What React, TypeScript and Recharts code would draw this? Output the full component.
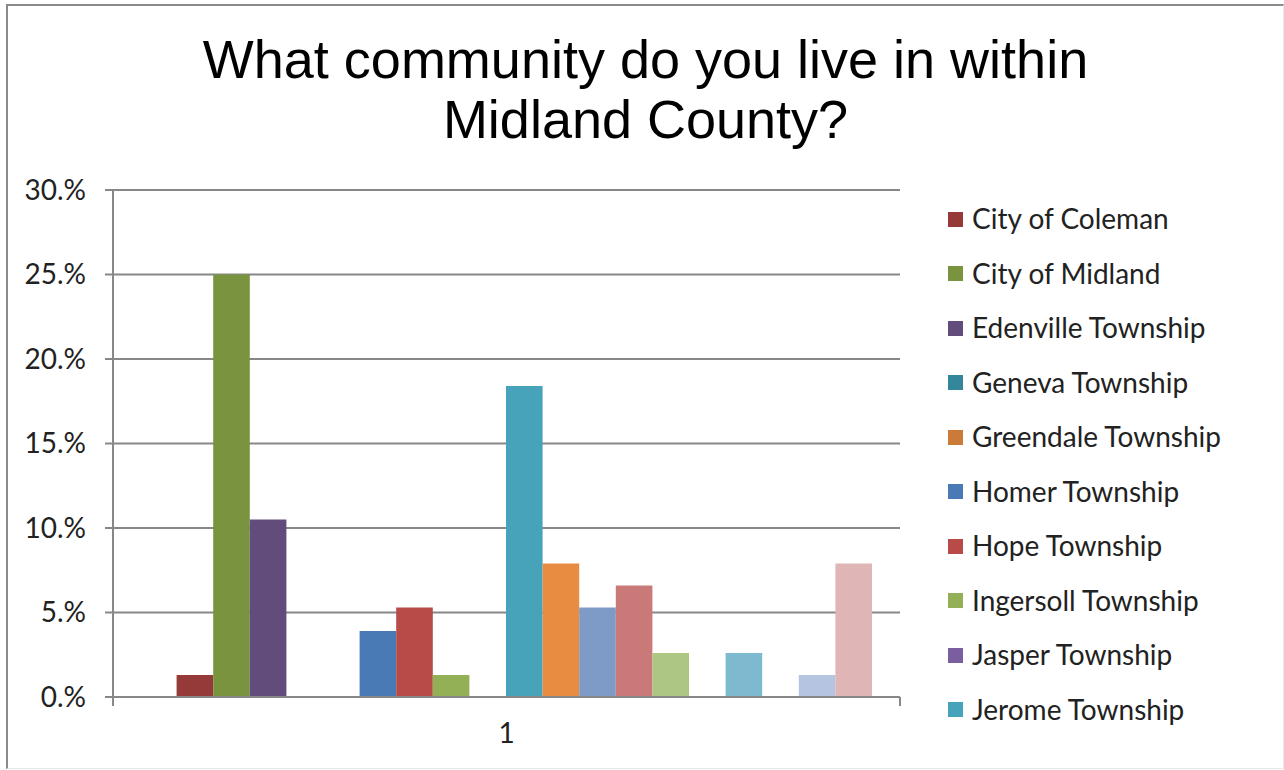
import React from 'react';
import { BarChart, Bar, XAxis, YAxis, CartesianGrid, Legend } from 'recharts';

const categories = ['1'];

const seriesNames = [
  'No response',
  'City of Coleman',
  'City of Midland',
  'Edenville Township',
  'Geneva Township',
  'Greendale Township',
  'Homer Township',
  'Hope Township',
  'Ingersoll Township',
  'Jasper Township',
  'Jerome Township',
  'Larkin Township',
  'Lee Township',
  'Lincoln Township',
  'Midland Township',
  'Mills Township',
  'Mount Haley Township',
  'Porter Township',
  'Warren Township',
  'Village of Sanford',
];

const seriesValues = [
  0, 0.013, 0.25, 0.105, 0, 0, 0.039, 0.053, 0.013, 0, 0.184, 0.079, 0.053, 0.066,
  0.026, 0, 0.026, 0, 0.013, 0.079,
];

const seriesColors = [
  '#385D8A', '#953A38', '#79933F', '#624C7C', '#34869A', '#CC7A37', '#4A7AB5', '#B84A47',
  '#93B056', '#7B5E9F', '#47A3BA', '#E88C42', '#7E9BC8', '#C97A78', '#AEC683', '#A597C0',
  '#7DB9CF', '#F9B585', '#B5C4E0', '#DFB5B5',
];

const yTicks = [0, 0.05, 0.1, 0.15, 0.2, 0.25, 0.3];
const titleLines = ['What community do you live in within', 'Midland County?'];
const legendCount = 10;

const data = categories.map((c) => {
  const row: Record<string, string | number> = { category: c };
  seriesValues.forEach((v, i) => {
    row[`s${i}`] = v;
  });
  return row;
});

const W = 1284;
const H = 770;
const PLOT_LEFT = 113;
const PLOT_RIGHT = 900;
const PLOT_TOP = 190;
const PLOT_BOTTOM = 697;
const PLOT_W = PLOT_RIGHT - PLOT_LEFT;
const GRID = '#878787';
const FONT = 'Lato, "Noto Sans", sans-serif';
const FS = 28;

const XTick = (props: any) => {
  const { x, y, payload } = props;
  return (
    <g>
      <line x1={x - PLOT_W / 2} y1={y} x2={x - PLOT_W / 2} y2={y + 9} stroke={GRID} strokeWidth={2} />
      <line x1={x + PLOT_W / 2} y1={y} x2={x + PLOT_W / 2} y2={y + 9} stroke={GRID} strokeWidth={2} />
      <text x={x} y={y + 46} textAnchor="middle" fontFamily={FONT} fontSize={FS} fill="#222">
        {payload.value}
      </text>
    </g>
  );
};

const LegendContent = (props: any) => {
  const items = (props.payload || []).slice(0, legendCount);
  return (
    <div style={{ fontFamily: FONT, fontSize: FS, color: '#222' }}>
      {items.map((it: any) => (
        <div key={it.value} style={{ height: 54.5, display: 'flex', alignItems: 'center', whiteSpace: 'nowrap' }}>
          <span style={{ width: 15, height: 15, background: it.color, display: 'inline-block', flex: '0 0 15px' }} />
          <span style={{ marginLeft: 9, position: 'relative', top: -1 }}>{it.value}</span>
        </div>
      ))}
    </div>
  );
};

export default function App() {
  return (
    <div style={{ position: 'relative', width: W, height: H, background: '#fff' }}>
      <style>{'body{margin:0;background:#fff}'}</style>
      <div
        style={{
          position: 'absolute',
          left: 6,
          top: 4,
          width: 1278,
          height: 765,
          boxSizing: 'border-box',
          borderTop: '2px solid #8a8a8a',
          borderLeft: '2px solid #8a8a8a',
          borderRight: '1px solid #e8e8e8',
          borderBottom: '1px solid #e8e8e8',
        }}
      />
      <div
        style={{
          position: 'absolute',
          left: 0,
          top: 29,
          width: 1291,
          textAlign: 'center',
          fontFamily: '"Liberation Sans", Arial, sans-serif',
          fontSize: 54,
          lineHeight: '60px',
          color: '#000',
        }}
      >
        {titleLines.map((t) => (
          <div key={t}>{t}</div>
        ))}
      </div>
      <div style={{ position: 'absolute', left: 0, top: 0 }}>
        <BarChart
          width={W}
          height={H}
          data={data}
          margin={{ top: PLOT_TOP, right: W - PLOT_RIGHT, bottom: H - PLOT_BOTTOM - 50, left: 0 }}
          barSize={36.6}
          barGap={0}
        >
          <CartesianGrid vertical={false} stroke={GRID} strokeWidth={2} />
          <XAxis
            dataKey="category"
            height={50}
            axisLine={{ stroke: GRID, strokeWidth: 2 }}
            tickLine={false}
            tickSize={0}
            tickMargin={0}
            tick={<XTick />}
          />
          <YAxis
            width={PLOT_LEFT}
            domain={[0, 0.3]}
            ticks={yTicks}
            interval={0}
            axisLine={{ stroke: GRID, strokeWidth: 2 }}
            tickLine={{ stroke: GRID, strokeWidth: 2 }}
            tickSize={8}
            tickMargin={19}
            tick={{ fontFamily: FONT, fontSize: FS, fill: '#222' }}
            tickFormatter={(v: number) => `${Math.round(v * 100)}.%`}
          />
          <Legend
            layout="vertical"
            align="center"
            verticalAlign="middle"
            content={<LegendContent />}
            wrapperStyle={{ left: 948, top: 192, right: 'auto', bottom: 'auto', width: 330 }}
          />
          {seriesNames.map((name, i) => (
            <Bar
              key={name}
              dataKey={`s${i}`}
              name={name}
              fill={seriesColors[i]}
              legendType={i === 0 ? 'none' : 'square'}
              isAnimationActive={false}
            />
          ))}
        </BarChart>
      </div>
    </div>
  );
}
